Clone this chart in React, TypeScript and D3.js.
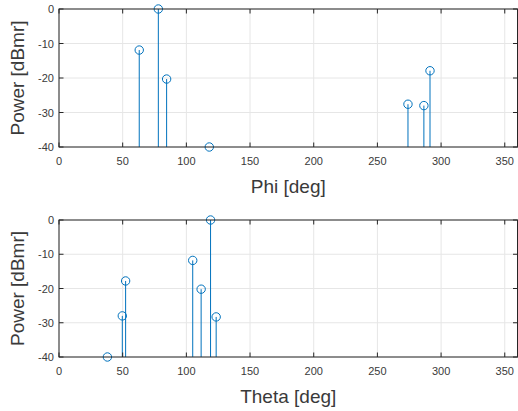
import React from "react";
import * as d3 from "d3";

// angles [deg] and power [dBmr]
const phiAngles = [63, 78, 84.5, 118, 274, 286.5, 291.3];
const phiPower = [-11.9, 0, -20.3, -40, -27.6, -28.0, -17.9];
const thetaAngles = [38, 49.7, 52.3, 105, 111.6, 119, 123.4];
const thetaPower = [-40, -28.0, -17.8, -11.8, -20.2, 0, -28.3];
const xTicks = [0, 50, 100, 150, 200, 250, 300, 350];
const yTicks = [0, -10, -20, -30, -40];

const W = 518;
const H = 411;
const left = 59;
const right = 517.5;
const axisColor = "#262626";
const textColor = "#3a3a3a";
const stemColor = "#0072BD";
const font = "'Liberation Sans', Arial, Helvetica, sans-serif";

type PanelProps = { top: number; bottom: number; xs: number[]; ys: number[]; label: string };

function StemPanel({ top, bottom, xs, ys, label }: PanelProps) {
  const x = d3.scaleLinear().domain([0, 360]).range([left, right]);
  const y = d3.scaleLinear().domain([-40, 0]).range([bottom, top]);
  const tick = 4.5;
  return (
    <g>
      {/* grid */}
      {xTicks.map(t => (
        <line key={"gx" + t} x1={x(t)} x2={x(t)} y1={top} y2={bottom} stroke="#e6e6e6" strokeWidth={1} />
      ))}
      {yTicks.map(t => (
        <line key={"gy" + t} x1={left} x2={right} y1={y(t)} y2={y(t)} stroke="#e6e6e6" strokeWidth={1} />
      ))}
      {/* stems */}
      {xs.map((v, i) => (
        <g key={"s" + i}>
          <line x1={x(v)} x2={x(v)} y1={y(-40)} y2={y(ys[i])} stroke={stemColor} strokeWidth={1} />
          <circle cx={x(v)} cy={y(ys[i])} r={4.2} fill="none" stroke={stemColor} strokeWidth={1} />
        </g>
      ))}
      {/* box */}
      <rect x={left} y={top} width={right - left} height={bottom - top} fill="none" stroke={axisColor} strokeWidth={1} />
      {xTicks.map(t => (
        <g key={"tx" + t}>
          <line x1={x(t)} x2={x(t)} y1={bottom} y2={bottom - tick} stroke={axisColor} />
          <line x1={x(t)} x2={x(t)} y1={top} y2={top + tick} stroke={axisColor} />
          <text x={x(t)} y={bottom + 18} textAnchor="middle" fontSize={11} fill={textColor} fontFamily={font}>
            {t}
          </text>
        </g>
      ))}
      {yTicks.map(t => (
        <g key={"ty" + t}>
          <line x1={left} x2={left + tick} y1={y(t)} y2={y(t)} stroke={axisColor} />
          <line x1={right} x2={right - tick} y1={y(t)} y2={y(t)} stroke={axisColor} />
          <text x={left - 5} y={y(t) + 4} textAnchor="end" fontSize={11} fill={textColor} fontFamily={font}>
            {t}
          </text>
        </g>
      ))}
      <text x={(left + right) / 2} y={bottom + 46} textAnchor="middle" fontSize={19} fill={textColor} fontFamily={font}>
        {label}
      </text>
      <text
        transform={`translate(24, ${(top + bottom) / 2}) rotate(-90)`}
        textAnchor="middle"
        fontSize={19}
        fill={textColor}
        fontFamily={font}
      >
        Power [dBmr]
      </text>
    </g>
  );
}

export default function App() {
  return (
    <svg width={W} height={H} style={{ position: "absolute", left: 0, top: 0, background: "#fff" }}>
      <rect width={W} height={H} fill="#fff" />
      <StemPanel top={9} bottom={147} xs={phiAngles} ys={phiPower} label="Phi [deg]" />
      <StemPanel top={220} bottom={357} xs={thetaAngles} ys={thetaPower} label="Theta [deg]" />
    </svg>
  );
}
